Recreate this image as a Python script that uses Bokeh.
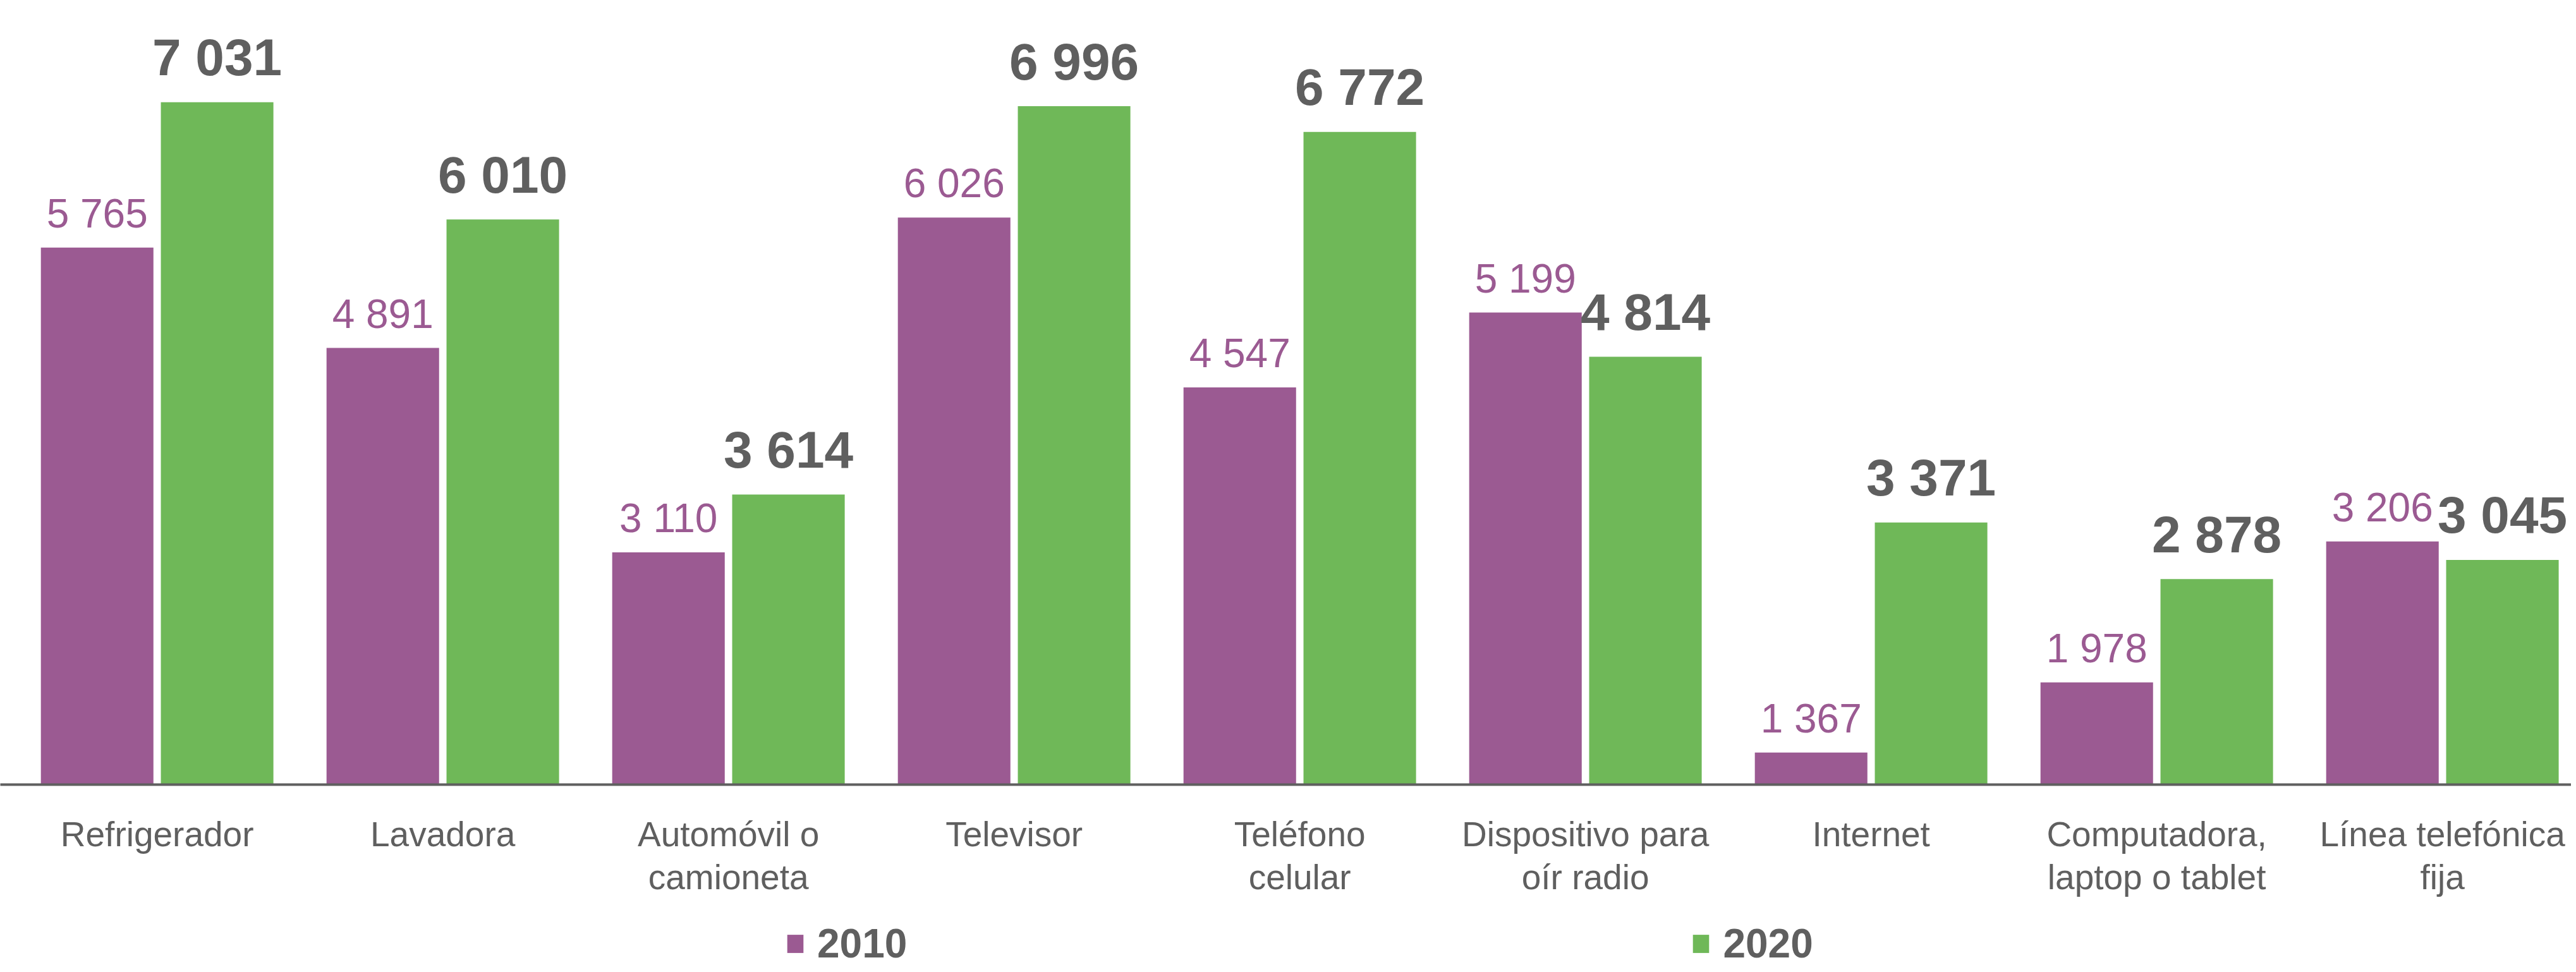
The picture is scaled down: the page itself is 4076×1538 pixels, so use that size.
import numpy as np
from bokeh.plotting import figure
from bokeh.layouts import column
from bokeh.models import Range1d, FixedTicker, ColumnDataSource, Legend, LegendItem
from bokeh.core.properties import value
from bokeh.embed import file_html
from bokeh.resources import INLINE

# ---- data ----
categories = ["Refrigerador", "Lavadora", "Automóvil o\ncamioneta", "Televisor",
              "Teléfono\ncelular", "Dispositivo para\noír radio", "Internet",
              "Computadora,\nlaptop o tablet", "Línea telefónica\nfija"]
values_2010 = [5765, 4891, 3110, 6026, 4547, 5199, 1367, 1978, 3206]
values_2020 = [7031, 6010, 3614, 6996, 6772, 4814, 3371, 2878, 3045]
series_names = ["2010", "2020"]

PURPLE = "#9B5A92"
GREEN = "#6FB858"
GRAY = "#5F5F5F"
FONT = "Liberation Sans"

def fmt(v):
    return f"{v:,}".replace(",", " ")

idx = np.arange(len(categories), dtype=float)
off = 0.21
bw = 0.394

src10 = ColumnDataSource(dict(x=idx - off, top=values_2010, lab=[fmt(v) for v in values_2010]))
src20 = ColumnDataSource(dict(x=idx + off, top=values_2020, lab=[fmt(v) for v in values_2020]))

# main chart: frame from page y 8 to 1249, axis labels below
p = figure(width=4068, height=1430, output_backend="svg", toolbar_location=None,
           x_range=Range1d(-0.549, 8.451), y_range=Range1d(1088, 7918),
           min_border_left=0, min_border_right=0, min_border_top=0, min_border_bottom=189)

r10 = p.vbar(x="x", top="top", bottom=0, width=bw, source=src10, fill_color=PURPLE, line_color=None)
r20 = p.vbar(x="x", top="top", bottom=0, width=bw, source=src20, fill_color=GREEN, line_color=None)

p.text(x="x", y="top", text="lab", source=src10, text_align="center", text_baseline="alphabetic",
       y_offset=-54, text_font=value(FONT), text_font_size="64px", text_color=PURPLE)
p.text(x="x", y="top", text="lab", source=src20, text_align="center", text_baseline="alphabetic",
       y_offset=-71, text_font=value(FONT), text_font_size="82px", text_font_style="bold",
       text_color=GRAY)

p.yaxis.visible = False
p.xgrid.visible = False
p.ygrid.visible = False
p.outline_line_color = None

ax = p.xaxis[0]
ax.ticker = FixedTicker(ticks=list(range(len(categories))))
ax.major_label_overrides = {i: c for i, c in enumerate(categories)}
ax.major_tick_line_color = None
ax.minor_tick_line_color = None
ax.major_tick_out = 0
ax.major_tick_in = 0
ax.axis_line_color = GRAY
ax.axis_line_width = 4
ax.major_label_text_font = FONT
ax.major_label_text_font_size = "55px"
ax.major_label_text_color = GRAY
ax.major_label_text_line_height = 1.1
ax.major_label_standoff = 47

# legend strip below the chart
leg = figure(width=4068, height=100, output_backend="svg", toolbar_location=None,
             x_range=Range1d(0, 1), y_range=Range1d(0, 1),
             min_border_left=0, min_border_right=0, min_border_top=0, min_border_bottom=0)
leg.axis.visible = False
leg.grid.visible = False
leg.outline_line_color = None
# swatch renderers for the legend (kept outside the visible range of this strip)
d10 = leg.vbar(x=[5], top=[1], width=0.1, fill_color=PURPLE, line_color=None)
d20 = leg.vbar(x=[5], top=[1], width=0.1, fill_color=GREEN, line_color=None)

legend = Legend(items=[LegendItem(label=series_names[0], renderers=[d10]),
                       LegendItem(label=series_names[1], renderers=[d20])],
                orientation="horizontal", location=(1242, 0), spacing=1240,
                glyph_width=32, glyph_height=36, label_standoff=19,
                label_text_font=FONT, label_text_font_size="64px", label_text_font_style="bold",
                label_text_color=GRAY, border_line_color=None, background_fill_alpha=0,
                margin=0, padding=0)
leg.add_layout(legend, "center")

layout = column(p, leg, spacing=0)
open("out.html", "w").write(file_html(layout, INLINE))
